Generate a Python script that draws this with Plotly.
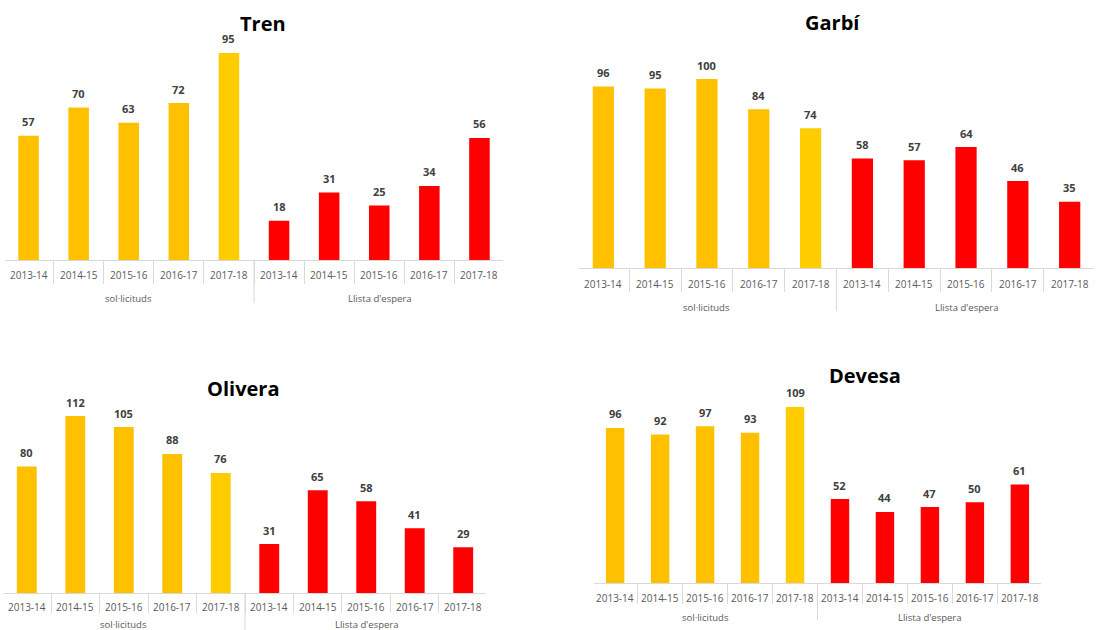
import plotly.graph_objects as go

YEARS = ["2013-14", "2014-15", "2015-16", "2016-17", "2017-18"]
GROUPS = ["sol·licituds", "Llista d'espera"]

TITLES = ["Tren", "Garbí", "Olivera", "Devesa"]

tren_sol = [57, 70, 63, 72, 95]
tren_llista = [18, 31, 25, 34, 56]
garbi_sol = [96, 95, 100, 84, 74]
garbi_llista = [58, 57, 64, 46, 35]
olivera_sol = [80, 112, 105, 88, 76]
olivera_llista = [31, 65, 58, 41, 29]
devesa_sol = [96, 92, 97, 93, 109]
devesa_llista = [52, 44, 47, 50, 61]

YELLOW = "#FFC000"
YELLOW_LAST = "#FFCC00"
RED = "#FF0000"
LABEL = "#404040"
TICK = "#595959"
GRID = "#D9D9D9"
FONT = "Open Sans, sans-serif"

W, H = 1097, 630

# pixel geometry per panel:
# left, right, baseline, top, px per unit, title x, title y,
# year label gap, group label gap, tick length, group divider length
PANELS = [
    (tren_sol, tren_llista, (5, 503, 260, 40, 2.18, 263, 24, 15, 38, 23, 43)),
    (garbi_sol, garbi_llista, (579, 1094, 268, 50, 1.89, 832, 23, 16, 39, 23, 43)),
    (olivera_sol, olivera_llista, (4, 486, 593, 400, 1.58, 243, 388, 14, 31, 19, 40)),
    (devesa_sol, devesa_llista, (594, 1041, 583, 395, 1.615, 865, 375, 15, 34, 20, 37)),
]

fig = go.Figure()
layout = {}
annotations = []
shapes = []

for i, (sol, llista, geo) in enumerate(PANELS):
    left, right, base, top, scale, tx, ty, ygap, ggap, tlen, dlen = geo
    n = "" if i == 0 else str(i + 1)
    cats = [f"{g} {y}" for g in GROUPS for y in YEARS]
    values = sol + llista
    colors = [YELLOW] * 4 + [YELLOW_LAST] + [RED] * 5
    fig.add_trace(
        go.Bar(
            x=cats,
            y=values,
            marker=dict(color=colors, line=dict(width=0)),
            xaxis="x" + n,
            yaxis="y" + n,
            showlegend=False,
            hoverinfo="x+y",
        )
    )
    # value labels above bars
    for c, v in zip(cats, values):
        annotations.append(
            dict(
                text=str(v), x=c, y=v, xref="x" + n, yref="y" + n,
                yanchor="middle", yshift=14, showarrow=False,
                font=dict(family=FONT, size=11, color=LABEL, weight="bold"),
            )
        )
    # year labels under each bar
    for c, y in zip(cats, YEARS + YEARS):
        annotations.append(
            dict(
                text=y, x=c, y=(H - base - ygap) / H, xref="x" + n, yref="paper",
                yanchor="middle", showarrow=False,
                font=dict(family=FONT, size=10, color=TICK),
            )
        )
    # group labels
    for g, mid in zip(GROUPS, (cats[2], cats[7])):
        annotations.append(
            dict(
                text=g, x=mid, y=(H - base - ggap) / H, xref="x" + n, yref="paper",
                yanchor="middle", showarrow=False,
                font=dict(family=FONT, size=9.5, color=TICK),
            )
        )
    # long divider between the two groups
    shapes.append(
        dict(
            type="line", xref="x" + n, yref="paper",
            x0=4.5, x1=4.5, y0=(H - base) / H, y1=max(H - base - dlen, 0) / H,
            line=dict(color=GRID, width=1),
        )
    )
    layout["xaxis" + n] = dict(
        domain=[left / W, right / W],
        anchor="y" + n,
        type="category",
        range=[-0.47, 9.47],
        showline=True,
        linecolor=GRID,
        linewidth=1,
        ticks="outside",
        tickson="boundaries",
        ticklen=tlen,
        tickcolor=GRID,
        showticklabels=False,
        showgrid=False,
        automargin=False,
        fixedrange=True,
    )
    layout["yaxis" + n] = dict(
        domain=[(H - base) / H, (H - top) / H],
        anchor="x" + n,
        range=[0, (base - top) / scale],
        visible=False,
        showgrid=False,
        zeroline=False,
        automargin=False,
        fixedrange=True,
    )
    annotations.append(
        dict(
            text=TITLES[i],
            x=tx / W,
            y=(H - ty) / H,
            xref="paper",
            yref="paper",
            xanchor="center",
            yanchor="middle",
            showarrow=False,
            font=dict(family=FONT, size=20, color="#000000", weight="bold"),
        )
    )

fig.update_layout(
    **layout,
    annotations=annotations,
    shapes=shapes,
    width=W,
    height=H,
    margin=dict(l=0, r=0, t=0, b=0),
    paper_bgcolor="white",
    plot_bgcolor="white",
    bargap=0.59,
    font=dict(family=FONT),
)

fig.write_html(
    "out.html",
    config={"displayModeBar": False},
    post_script="document.body.style.margin = '0';",
)
